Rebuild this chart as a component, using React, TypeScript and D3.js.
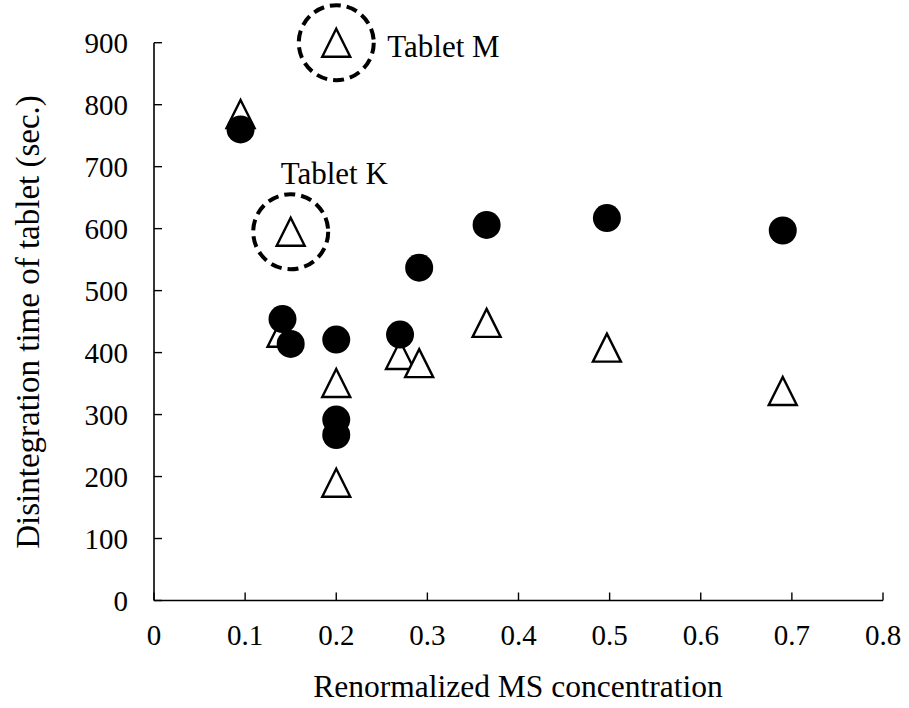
import React from "react";
import * as d3 from "d3";

const triX = [0.095, 0.14, 0.15, 0.2, 0.2, 0.2, 0.27, 0.291, 0.365, 0.497, 0.69];
const triY = [785, 432, 595, 900, 351, 190, 396, 383, 448, 408, 338];
const dotX = [0.095, 0.141, 0.15, 0.2, 0.2, 0.2, 0.27, 0.291, 0.365, 0.497, 0.69];
const dotY = [760, 454, 414, 421, 292, 267, 429, 537, 606, 617, 597];
const xTicks = [0, 0.1, 0.2, 0.3, 0.4, 0.5, 0.6, 0.7, 0.8];
const yTicks = [0, 100, 200, 300, 400, 500, 600, 700, 800, 900];
const noteLabels = ["Tablet K", "Tablet M"];
const noteX = [0.15, 0.2];
const noteY = [595, 900];

const W = 909;
const H = 708;
const FONT = "'Liberation Serif', 'Times New Roman', serif";

export default function App() {
  const x = d3.scaleLinear().domain([0, 0.8]).range([154, 883]);
  const y = d3.scaleLinear().domain([0, 900]).range([600.5, 42.7]);
  const triPath = (cx: number, cy: number) => {
    const s = 14;
    return `M${cx},${cy - s}L${cx + s},${cy + s}L${cx - s},${cy + s}Z`;
  };
  const dotR = 14;
  const labelDX = [-10, 51];
  const labelDY = [-48, 14];
  return (
    <svg
      width={W}
      height={H}
      style={{ position: "absolute", left: 0, top: 0, background: "#fff" }}
      fontFamily={FONT}
    >
      <rect x={0} y={0} width={W} height={H} fill="#fff" />
      <line x1={x(0)} x2={x(0.8)} y1={y(0)} y2={y(0)} stroke="#000" strokeWidth={1.6} />
      <line x1={x(0)} x2={x(0)} y1={y(0)} y2={y(900)} stroke="#000" strokeWidth={1.6} />
      {xTicks.map((t) => (
        <g key={"xt" + t}>
          <line x1={x(t)} x2={x(t)} y1={y(0)} y2={y(0) - 8} stroke="#000" strokeWidth={1.4} />
          <text x={x(t)} y={645} textAnchor="middle" fontSize={29} fill="#000">
            {t === 0 ? "0" : t.toFixed(1)}
          </text>
        </g>
      ))}
      {yTicks.map((t) => (
        <g key={"yt" + t}>
          <line x1={x(0)} x2={x(0) + 8} y1={y(t)} y2={y(t)} stroke="#000" strokeWidth={1.4} />
          <text x={128} y={y(t) + 10} textAnchor="end" fontSize={29} fill="#000">
            {t}
          </text>
        </g>
      ))}
      <text x={518} y={697} textAnchor="middle" fontSize={31.5} fill="#000">
        Renormalized MS concentration
      </text>
      <text
        transform={`translate(39,322) rotate(-90)`}
        textAnchor="middle"
        fontSize={33}
        fill="#000"
      >
        Disintegration time of tablet (sec.)
      </text>
      {triX.map((v, i) => (
        <path
          key={"tr" + i}
          d={triPath(x(v), y(triY[i]))}
          fill="#fff"
          stroke="#000"
          strokeWidth={2.4}
        />
      ))}
      {dotX.map((v, i) => (
        <circle key={"dt" + i} cx={x(v)} cy={y(dotY[i])} r={dotR} fill="#000" />
      ))}
      {noteLabels.map((lab, i) => (
        <g key={"nt" + i}>
          <circle
            cx={x(noteX[i])}
            cy={y(noteY[i])}
            r={37.5}
            fill="none"
            stroke="#000"
            strokeWidth={4}
            strokeDasharray="11,6"
          />
          <text
            x={x(noteX[i]) + labelDX[i]}
            y={y(noteY[i]) + labelDY[i]}
            textAnchor="start"
            fontSize={31}
            fill="#000"
          >
            {lab}
          </text>
        </g>
      ))}
    </svg>
  );
}
